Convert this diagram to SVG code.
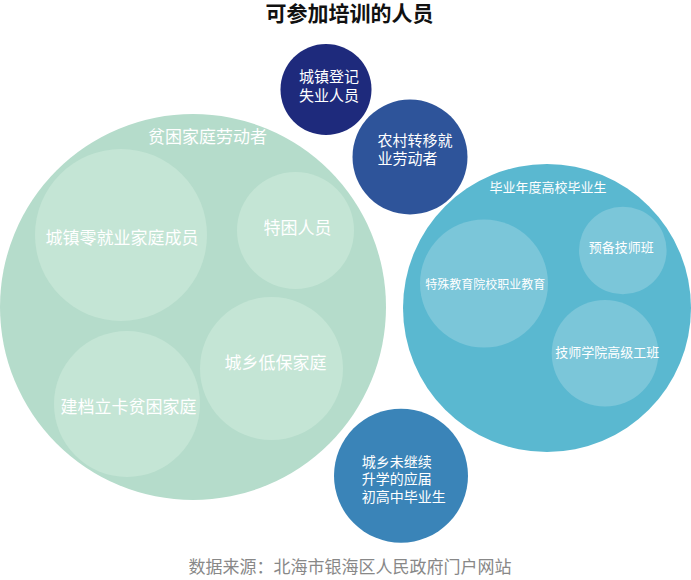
<svg xmlns="http://www.w3.org/2000/svg" width="691" height="580" viewBox="0 0 691 580">
<style>
text{font-family:"Noto Sans CJK SC","Noto Sans",sans-serif;fill:#fff}
.t17{font-size:17px;text-anchor:middle}
.t15{font-size:15px}
.t14{font-size:14px}
.t13{font-size:13px;text-anchor:middle}
.t12{font-size:12px;text-anchor:middle}
.title{font-size:21px;font-weight:bold;fill:#111;text-anchor:middle}
.src{font-size:17px;fill:#888;text-anchor:middle}
.g1{fill:#b5dccb}.g2{fill:#c4e5d5}
.navy{fill:#1e2a7c}.blue{fill:#2e549a}.teal{fill:#5ab8d0}.teal2{fill:#7bc6d9}.mid{fill:#3a84b8}
</style>
<rect width="691" height="580" fill="#fff"/>
<text class="title" x="349.5" y="20.5">可参加培训的人员</text>
<g id="poor">
<circle class="g1" cx="193" cy="307" r="193"/>
<text class="t17" x="207.5" y="143">贫困家庭劳动者</text>
</g>
<g id="zero">
<circle class="g2" cx="121" cy="235" r="86"/>
<text class="t17" x="122" y="244">城镇零就业家庭成员</text>
</g>
<g id="tekun">
<circle class="g2" cx="295.5" cy="230.5" r="58.5"/>
<text class="t17" x="297.5" y="234">特困人员</text>
</g>
<g id="dibao">
<circle class="g2" cx="271.5" cy="368.5" r="71.5"/>
<text class="t17" x="275.5" y="369">城乡低保家庭</text>
</g>
<g id="jiandang">
<circle class="g2" cx="127" cy="404" r="73"/>
<text class="t17" x="128.5" y="413">建档立卡贫困家庭</text>
</g>
<g id="unemployed">
<circle class="navy" cx="326" cy="89.5" r="45.5"/>
<text class="t15" x="299" y="82">城镇登记</text>
<text class="t15" x="299" y="100.5">失业人员</text>
</g>
<g id="rural">
<circle class="blue" cx="410" cy="157" r="57.5"/>
<text class="t15" x="377.5" y="145.5">农村转移就</text>
<text class="t15" x="377.5" y="163.8">业劳动者</text>
</g>
<g id="grads">
<circle class="teal" cx="547" cy="308" r="144"/>
<text class="t13" x="548" y="192">毕业年度高校毕业生</text>
</g>
<g id="special">
<circle class="teal2" cx="484" cy="283.5" r="64"/>
<text class="t12" x="485.3" y="289.3">特殊教育院校职业教育</text>
</g>
<g id="yubei">
<circle class="teal2" cx="622.8" cy="250.5" r="43.8"/>
<text class="t13" x="621.2" y="252">预备技师班</text>
</g>
<g id="gaoji">
<circle class="teal2" cx="605" cy="353.3" r="53.3"/>
<text class="t13" x="607.3" y="357.4">技师学院高级工班</text>
</g>
<g id="school">
<circle class="mid" cx="401" cy="475.7" r="67"/>
<text class="t14" x="361.7" y="466.7">城乡未继续</text>
<text class="t14" x="361.7" y="484">升学的应届</text>
<text class="t14" x="361.7" y="501.7">初高中毕业生</text>
</g>
<g id="connectors"></g>
<text class="src" x="350" y="572.8">数据来源：北海市银海区人民政府门户网站</text>
</svg>
